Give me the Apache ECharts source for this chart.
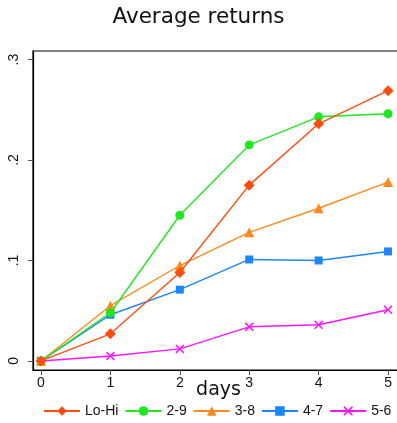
<!DOCTYPE html>
<html>
<head>
<meta charset="utf-8">
<script src="https://cdn.jsdelivr.net/npm/echarts@6/dist/echarts.min.js"></script>
<style>
  html, body { margin: 0; padding: 0; background: #fff; overflow: hidden; }
  #chart { width: 397px; height: 423px; }
</style>
</head>
<body>
<div id="chart"></div>
<script>
// Horizon in days
const days = [0, 1, 2, 3, 4, 5];

// Average returns per portfolio spread
const loHi = [0, 0.027, 0.088, 0.175, 0.236, 0.269];
const s29  = [0, 0.048, 0.145, 0.215, 0.243, 0.246];
const s38  = [0, 0.055, 0.095, 0.128, 0.152, 0.178];
const s47  = [0, 0.046, 0.071, 0.101, 0.100, 0.109];
const s56  = [0, 0.005, 0.012, 0.034, 0.036, 0.051];

const seriesNames = ['Lo-Hi', '2-9', '3-8', '4-7', '5-6'];
const seriesValues = [loHi, s29, s38, s47, s56];

const xTicks = [0, 1, 2, 3, 4, 5];
const yTicks = [0, 0.1, 0.2, 0.3];
const yTickText = { 0: '0', 0.1: '.1', 0.2: '.2', 0.3: '.3' };

const colors = ['#ff4d10', '#1fe81f', '#ff8a1c', '#1c86ff', '#ff14ff'];
const crossPath = 'path://M0,1.2L1.2,0L5,3.8L8.8,0L10,1.2L6.2,5L10,8.8L8.8,10L5,6.2L1.2,10L0,8.8L3.8,5Z';
const symbols = ['diamond', 'circle', 'triangle', 'rect', crossPath];
const sizes = [11, 9, 10, 8, 9];

const chart = echarts.init(document.getElementById('chart'), null, { renderer: 'canvas' });

const series = seriesNames.map((name, i) => ({
  name: name,
  type: 'line',
  data: days.map((d, k) => [d, seriesValues[i][k]]),
  symbol: symbols[i],
  symbolSize: sizes[i],
  showAllSymbol: true,
  z: 10 - i,
  lineStyle: { color: colors[i], width: 1.4 },
  itemStyle: { color: colors[i], borderWidth: 0 },
  emphasis: { disabled: true },
  animation: false
}));

chart.setOption({
  animation: false,
  title: {
    text: 'Average returns',
    left: 'center',
    top: 1,
    textStyle: { fontFamily: 'DejaVu Sans', fontSize: 21.5, fontWeight: 'normal', color: '#111' }
  },
  legend: {
    data: seriesNames,
    bottom: 0,
    left: 38,
    width: 380,
    itemWidth: 36,
    itemHeight: 12,
    itemGap: 6,
    textStyle: { fontFamily: 'Liberation Sans', fontSize: 14, color: '#111' }
  },
  // plot box runs past the right edge of the canvas
  grid: {
    left: 33, top: 51, width: 371, bottom: 53,
    outerBoundsMode: 'none',
    show: true, borderColor: '#000', borderWidth: 1.2
  },
  xAxis: {
    type: 'value',
    min: -0.115,
    max: 5.23,
    name: 'days',
    nameLocation: 'middle',
    nameGap: 11,
    nameMoveOverlap: false,
    nameTextStyle: { fontFamily: 'DejaVu Sans', fontSize: 19, color: '#111' },
    axisLine: { show: true, onZero: false, lineStyle: { color: '#000', width: 1.2 } },
    axisTick: { show: true, length: 5, customValues: xTicks, lineStyle: { color: '#555' } },
    axisLabel: { customValues: xTicks, fontFamily: 'Liberation Sans', fontSize: 14, color: '#111', margin: 6 },
    splitLine: { show: false }
  },
  yAxis: {
    type: 'value',
    min: -0.009,
    max: 0.3085,
    axisLine: { show: true, onZero: false, lineStyle: { color: '#000', width: 1.2 } },
    axisTick: { show: true, length: 5, customValues: yTicks, lineStyle: { color: '#555' } },
    axisLabel: {
      customValues: yTicks,
      rotate: 90,
      fontFamily: 'Liberation Sans',
      fontSize: 14,
      color: '#111',
      margin: 12,
      formatter: v => yTickText[Math.round(v * 10) / 10] ?? ''
    },
    splitLine: { show: false }
  },
  series: series
});
</script>
</body>
</html>
